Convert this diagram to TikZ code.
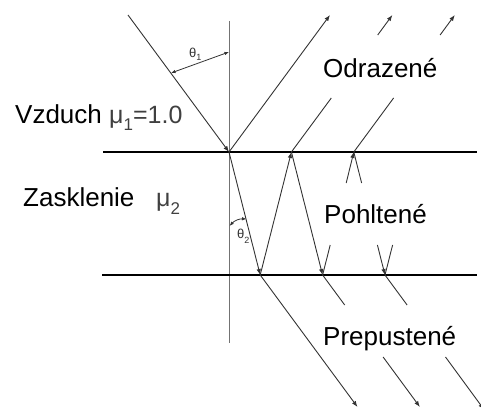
\documentclass[tikz,border=0pt]{standalone}
\usepackage{fontspec}
\setmainfont{Liberation Sans}
\usetikzlibrary{arrows.meta}
\tikzset{
  ray/.style={line width=0.9pt, draw=black!80},
  rayarr/.style={ray, -{Latex[length=6pt,width=4.5pt]}},
  surface/.style={line width=2.8pt, draw=black},
  normalline/.style={line width=1pt, draw=black!55},
  angarr/.style={line width=0.8pt, draw=black!80, {Latex[length=4.5pt,width=3.5pt]}-{Latex[length=4.5pt,width=3.5pt]}},
  lbl/.style={inner sep=0pt, anchor=base west, font=\fontsize{26}{30}\selectfont},
  mulbl/.style={inner sep=0pt, anchor=base west, text=black!75, font=\fontsize{25}{30}\selectfont},
  small/.style={inner sep=0pt, anchor=base west, text=black!80, font=\fontsize{13}{14}\selectfont}
}
\newcommand{\mysub}[2]{\raisebox{#1}{\fontsize{17}{17}\selectfont #2}}
\newcommand{\mysmallsub}[2]{\raisebox{#1}{\fontsize{9}{9}\selectfont #2}}
\begin{document}
\begin{tikzpicture}[x=1pt,y=-1pt]
\useasboundingbox (0,0) rectangle (481,409);
% named points
\coordinate (N1) at (229,21);
\coordinate (N2) at (229,343);
\coordinate (T1) at (103,152);
\coordinate (T2) at (477,152);
\coordinate (U1) at (102,275);
\coordinate (U2) at (477,275);
\coordinate (S) at (128,15);
\coordinate (A0) at (229,152);
\coordinate (B0) at (260.2,275);
\coordinate (A1) at (291.4,152);
\coordinate (B1) at (322.6,275);
\coordinate (A2) at (353.8,152);
\coordinate (B2) at (385,275);
% stubs inside glass
\coordinate (a2l) at (346.2,183);
\coordinate (a2r) at (361.6,183);
\coordinate (b1r) at (330.2,245);
\coordinate (b2l) at (377.4,245);
\coordinate (b2r) at (392.6,245);
% reflected
\coordinate (R0) at (330,15);
\coordinate (r1a) at (331.3,98);
\coordinate (r1b) at (377.7,35);
\coordinate (r1c) at (392.4,15);
\coordinate (r2a) at (393.6,98);
\coordinate (r2b) at (440.1,35);
\coordinate (r2c) at (454.8,15);
% transmitted
\coordinate (P0) at (357.5,407);
\coordinate (p1a) at (344.7,305);
\coordinate (p1b) at (383.1,357);
\coordinate (p1c) at (419.9,407);
\coordinate (p2a) at (407.1,305);
\coordinate (p2b) at (445.5,357);
\coordinate (p2c) at (484,409.5);
% angle marks
\coordinate (th1a) at (171,73);
\coordinate (th1b) at (229,52);
\coordinate (th2a) at (229.5,226);
\coordinate (th2b) at (246.5,219);

% surfaces and normal
\draw[normalline] (N1) -- (N2);
\draw[surface] (T1) -- (T2);
\draw[surface] (U1) -- (U2);

% incident and first reflection
\draw[rayarr] (S) -- (A0);
\draw[rayarr] (A0) -- (R0);

% zig-zag in glass
\draw[rayarr] (A0) -- (B0);
\draw[rayarr] (B0) -- (A1);
\draw[rayarr] (A1) -- (B1);
\draw[ray] (b1r) -- (B1);
\draw[rayarr] (a2l) -- (A2);
\draw[ray] (a2r) -- (A2);
\draw[rayarr] (b2l) -- (B2);
\draw[ray] (b2r) -- (B2);

% reflected out
\draw[ray] (A1) -- (r1a);
\draw[rayarr] (r1b) -- (r1c);
\draw[ray] (A2) -- (r2a);
\draw[rayarr] (r2b) -- (r2c);

% transmitted
\draw[rayarr] (B0) -- (P0);
\draw[ray] (B1) -- (p1a);
\draw[rayarr] (p1b) -- (p1c);
\draw[ray] (B2) -- (p2a);
\draw[rayarr] (p2b) -- (p2c);

% angles
\draw[angarr] (th1a) -- (th1b);
\draw[angarr] (th2a) to[bend left=25] (th2b);
\node[small] (t1) at (189,58) {θ\mysmallsub{-3pt}{1}};
\node[small] (t2) at (237,238) {θ\mysmallsub{-5pt}{2}};

% labels
\node[lbl] (vz) at (15,123) {Vzduch};
\node[mulbl] (mu1) at (109,123) {μ\mysub{-7pt}{1}=1.0};
\node[lbl] (zk) at (23,206) {Zasklenie};
\node[mulbl] (mu2) at (156,206) {μ\mysub{-8pt}{2}};
\node[lbl] (od) at (323,78) {Odrazené};
\node[lbl] (po) at (324,223) {Pohltené};
\node[lbl] (pr) at (323,345) {Prepustené};
\end{tikzpicture}
\end{document}
